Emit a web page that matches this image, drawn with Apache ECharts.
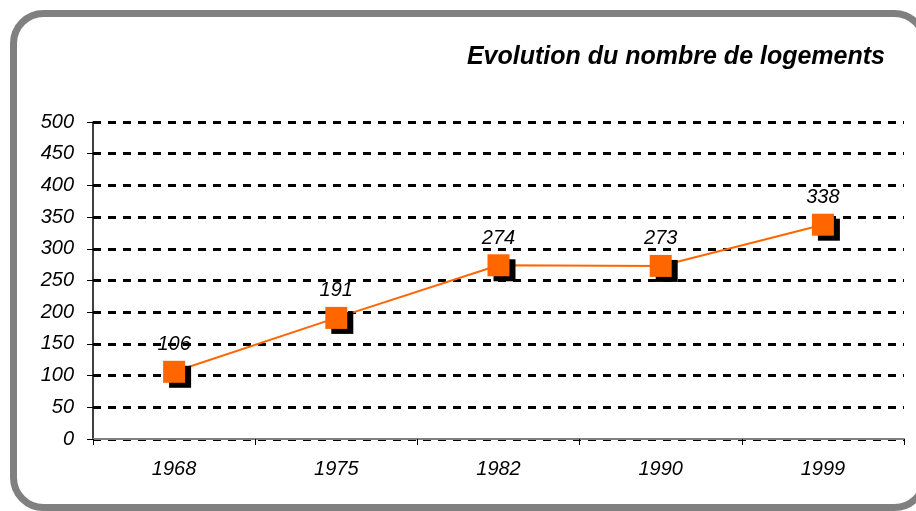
<!DOCTYPE html>
<html>
<head>
<meta charset="utf-8">
<script src="https://cdn.jsdelivr.net/npm/echarts@6/dist/echarts.min.js"></script>
<style>html,body{margin:0;padding:0;background:#fff;}#c{width:916px;height:511px;}</style>
</head>
<body>
<div id="c"></div>
<script>
const title = 'Evolution du nombre de logements';
const categories = ['1968', '1975', '1982', '1990', '1999'];
const logements = [106, 191, 274, 273, 338];
const yMin = 0, yMax = 500, yStep = 50;

const font = 'Liberation Sans, Arial, sans-serif';
const chart = echarts.init(document.getElementById('c'), null, {renderer: 'canvas'});
chart.setOption({
  animation: false,
  backgroundColor: '#fff',
  graphic: [{
    type: 'rect', z: -10, silent: true,
    shape: {x: 13.5, y: 13.5, width: 911, height: 494, r: 30},
    style: {fill: 'none', stroke: '#808080', lineWidth: 7}
  }],
  title: {
    text: title, right: 26, top: 40,
    textStyle: {fontFamily: font, fontSize: 25, fontStyle: 'italic', fontWeight: 'bold', color: '#000'}
  },
  grid: {left: 93, right: 12, top: 122, bottom: 72},
  xAxis: {
    type: 'category', data: categories, boundaryGap: true,
    axisLine: {lineStyle: {color: '#808080', width: 2}},
    axisTick: {show: true, length: 6, alignWithLabel: false, lineStyle: {color: '#000', width: 1}},
    axisLabel: {margin: 20, fontFamily: font, fontSize: 20, fontStyle: 'italic', color: '#000'},
    splitLine: {show: false}
  },
  yAxis: {
    type: 'value', min: yMin, max: yMax, interval: yStep,
    axisLine: {show: true, lineStyle: {color: '#000', width: 1.5}},
    axisTick: {show: true, length: 6, lineStyle: {color: '#000'}},
    axisLabel: {margin: 19, fontFamily: font, fontSize: 20, fontStyle: 'italic', color: '#000'},
    splitLine: {show: true, lineStyle: {color: '#000', width: 3, type: [8, 7]}}
  },
  series: [{
    type: 'line', data: logements,
    symbol: 'rect', symbolSize: 22,
    lineStyle: {color: '#FF6600', width: 2},
    itemStyle: {color: '#FF6600', shadowColor: '#000', shadowOffsetX: 6, shadowOffsetY: 5, shadowBlur: 0},
    label: {show: true, position: 'top', distance: 6, fontFamily: font, fontSize: 20, fontStyle: 'italic', color: '#000'}
  }]
});
</script>
</body>
</html>
